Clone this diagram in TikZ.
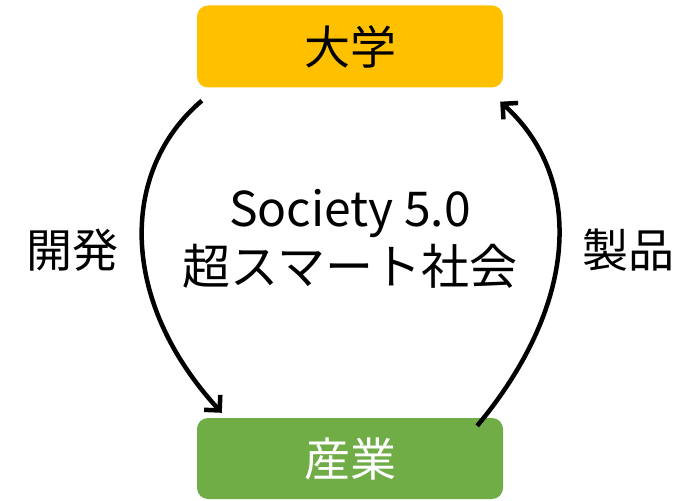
\documentclass[tikz,border=0pt]{standalone}
\usepackage{fontspec}
\setmainfont{Noto Sans CJK JP}
\usetikzlibrary{arrows.meta}
\definecolor{boxorange}{HTML}{FFC000}
\definecolor{boxgreen}{HTML}{70AD47}
\begin{document}
\begin{tikzpicture}[x=1pt,y=-1pt,
  box/.style={rounded corners=11pt, minimum width=306pt, minimum height=82pt, inner sep=0pt, font=\fontsize{46}{52}\selectfont},
  lbl/.style={inner sep=0pt, font=\fontsize{46}{52}\selectfont},
  arr/.style={line width=4.5pt, -{Straight Barb[length=11pt,width=22pt,line width=4.5pt]}}]
\useasboundingbox (0,0) rectangle (700,500);
\node[box, fill=boxorange, text=black] (univ) at (350,46.5) {大学};
\node[box, fill=boxgreen, text=white, minimum height=81pt] (ind) at (350,458.5) {産業};
\node[lbl, align=center, font=\fontsize{48}{58}\selectfont] (center) at (350,239) {Society 5.0\\超スマート社会};
\node[lbl] (dev) at (72,250) {開発};
\node[lbl] (prod) at (628,250) {製品};
\coordinate (a1) at ([xshift=5pt,yshift=-13pt]univ.south west);
\coordinate (a2) at ([xshift=25pt,yshift=5pt]ind.north west);
\coordinate (b1) at ([xshift=-26pt,yshift=-8pt]ind.north east);
\coordinate (b2) at ([xshift=-3pt,yshift=-14pt]univ.south east);
\draw[arr] (a1) .. controls (120,170) and (118,300) .. (a2);
\draw[arr] (b1) .. controls (582,300) and (582,175) .. (b2);
\end{tikzpicture}
\end{document}
